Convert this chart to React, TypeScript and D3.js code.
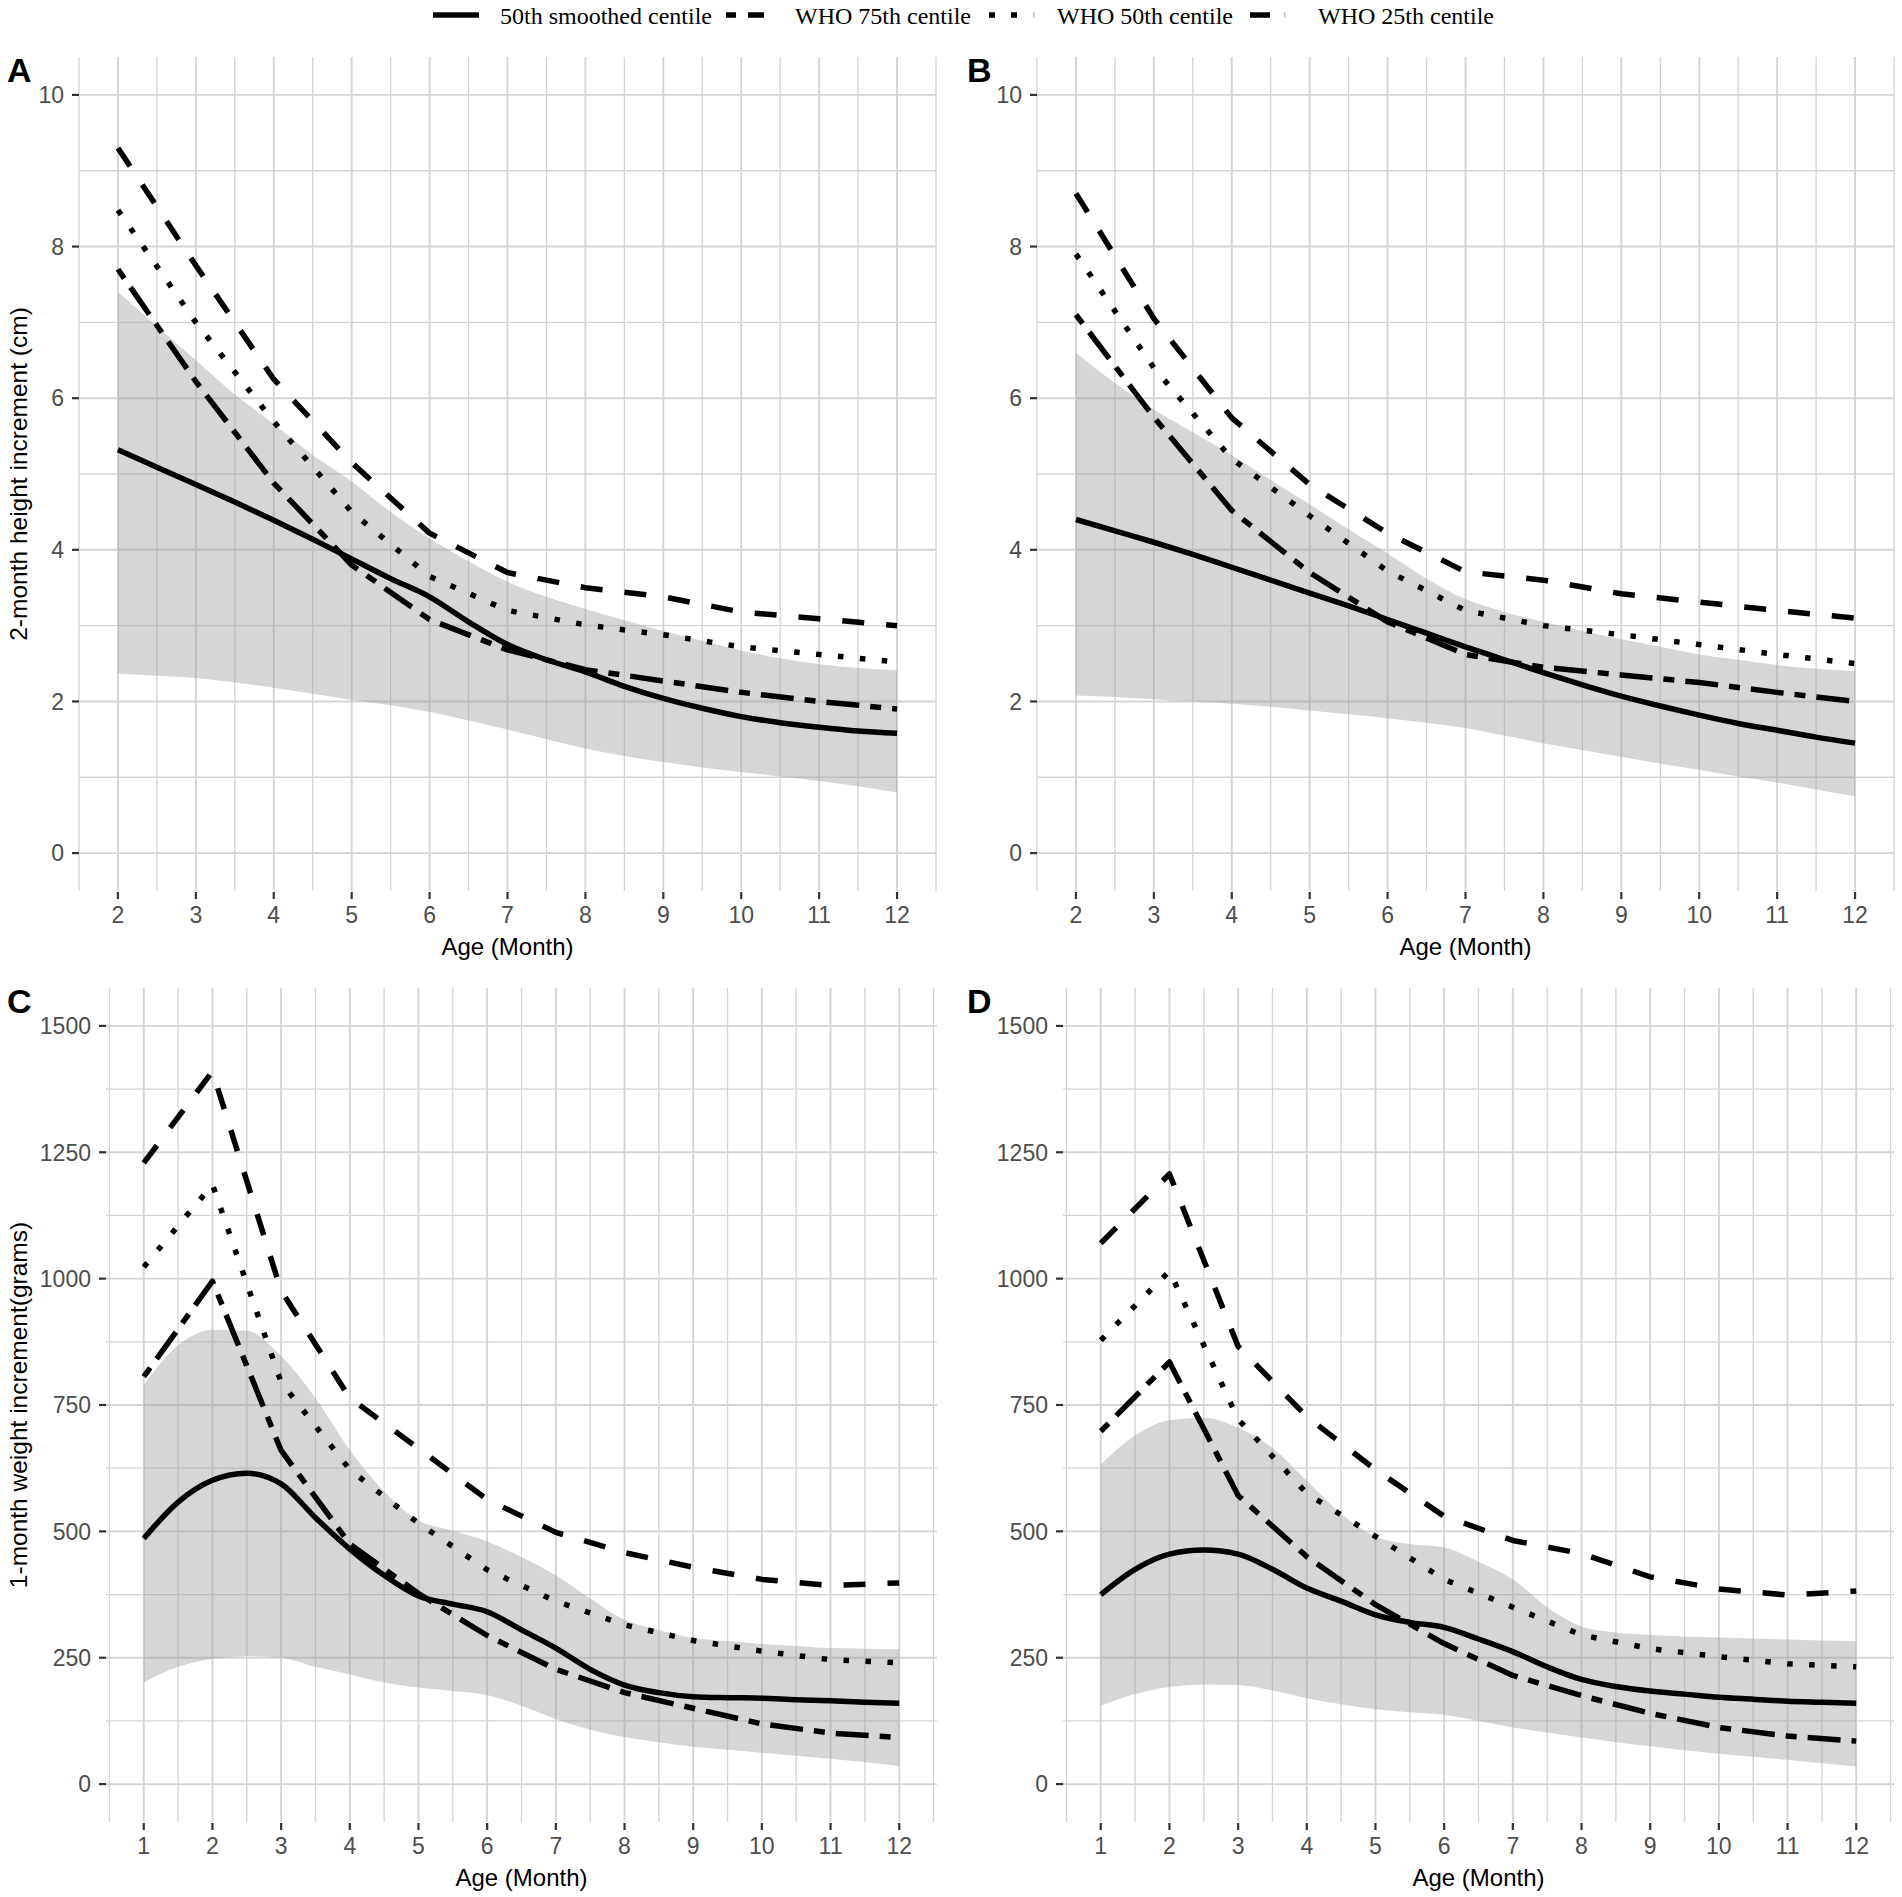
import React from 'react';
import * as d3 from 'd3';

// ---------- DATA ----------
const legendLabels = ['50th smoothed centile', 'WHO 75th centile', 'WHO 50th centile', 'WHO 25th centile'];

const heightMonths = [2, 3, 4, 5, 6, 7, 8, 9, 10, 11, 12];
const weightMonths = [1, 2, 3, 4, 5, 6, 7, 8, 9, 10, 11, 12];
const heightSmoothX = [2, 2.5, 3, 3.5, 4, 4.5, 5, 5.5, 6, 6.5, 7, 7.5, 8, 8.5, 9, 9.5, 10, 10.5, 11, 11.5, 12];
const weightSmoothX = [1, 1.5, 2, 2.5, 3, 3.5, 4, 4.5, 5, 5.5, 6, 6.5, 7, 7.5, 8, 8.5, 9, 9.5, 10, 10.5, 11, 11.5, 12];

const heightTicks = [0, 2, 4, 6, 8, 10];
const weightTicks = [0, 250, 500, 750, 1000, 1250, 1500];

// Panel A (2-month height increment)
const aWho75 = [9.3, 7.75, 6.25, 5.15, 4.22, 3.7, 3.5, 3.38, 3.18, 3.09, 3.0];
const aWho50 = [8.48, 7.0, 5.69, 4.5, 3.65, 3.2, 3.01, 2.88, 2.72, 2.62, 2.52];
const aWho25 = [7.7, 6.22, 4.88, 3.8, 3.08, 2.68, 2.42, 2.27, 2.12, 2.0, 1.9];
const aSmooth = [5.32, 5.09, 4.86, 4.63, 4.39, 4.14, 3.88, 3.62, 3.38, 3.05, 2.75, 2.55, 2.39, 2.2, 2.04, 1.91, 1.8, 1.72, 1.66, 1.61, 1.58];
const aUpper = [7.4, 6.95, 6.5, 6.05, 5.66, 5.25, 4.9, 4.5, 4.15, 3.85, 3.58, 3.38, 3.22, 3.07, 2.93, 2.8, 2.67, 2.57, 2.49, 2.44, 2.41];
const aLower = [2.37, 2.34, 2.31, 2.25, 2.18, 2.1, 2.02, 1.95, 1.86, 1.75, 1.63, 1.5, 1.38, 1.28, 1.2, 1.13, 1.07, 1.01, 0.95, 0.88, 0.8];

// Panel B
const bWho75 = [8.7, 7.05, 5.74, 4.86, 4.22, 3.71, 3.6, 3.42, 3.31, 3.2, 3.1];
const bWho50 = [7.9, 6.4, 5.2, 4.45, 3.72, 3.2, 3.0, 2.88, 2.75, 2.62, 2.5];
const bWho25 = [7.1, 5.75, 4.52, 3.7, 3.05, 2.62, 2.45, 2.35, 2.25, 2.12, 2.0];
const bSmooth = [4.4, 4.25, 4.1, 3.94, 3.77, 3.6, 3.43, 3.26, 3.08, 2.9, 2.72, 2.55, 2.38, 2.22, 2.07, 1.94, 1.82, 1.71, 1.62, 1.53, 1.45];
const bUpper = [6.6, 6.2, 5.85, 5.55, 5.25, 4.92, 4.6, 4.27, 3.95, 3.62, 3.35, 3.18, 3.05, 2.93, 2.82, 2.72, 2.62, 2.55, 2.48, 2.43, 2.4];
const bLower = [2.08, 2.06, 2.03, 2.0, 1.97, 1.93, 1.88, 1.83, 1.78, 1.72, 1.65, 1.55, 1.45, 1.36, 1.27, 1.18, 1.1, 1.01, 0.93, 0.84, 0.75];

// Panel C (1-month weight increment)
const cWho75 = [1229, 1410, 976, 764, 664, 563, 498, 458, 429, 405, 393, 398];
const cWho50 = [1023, 1186, 795, 622, 516, 424, 362, 315, 284, 263, 246, 240];
const cWho25 = [806, 995, 660, 475, 377, 294, 227, 181, 150, 119, 101, 92];
const cSmooth = [486, 558, 601, 615, 594, 527, 465, 413, 372, 356, 341, 305, 269, 227, 196, 181, 173, 171, 170, 167, 165, 162, 160];
const cUpper = [790, 868, 899, 897, 847, 764, 661, 579, 522, 501, 480, 449, 413, 367, 325, 305, 289, 283, 277, 273, 269, 268, 267];
const cLower = [201, 232, 248, 253, 250, 232, 217, 201, 191, 184, 176, 155, 129, 108, 93, 83, 74, 68, 62, 56, 50, 43, 36];

// Panel D
const dWho75 = [1070, 1207, 866, 727, 622, 530, 482, 456, 410, 386, 374, 382];
const dWho50 = [878, 1015, 722, 575, 490, 405, 350, 295, 268, 252, 238, 232];
const dWho25 = [698, 835, 571, 450, 355, 278, 215, 175, 140, 112, 95, 85];
const dSmooth = [375, 425, 455, 463, 455, 425, 388, 362, 335, 320, 310, 287, 262, 232, 207, 193, 184, 178, 172, 168, 164, 162, 160];
const dUpper = [632, 690, 720, 725, 705, 665, 600, 535, 490, 475, 468, 440, 405, 350, 312, 300, 295, 292, 290, 288, 286, 284, 283];
const dLower = [155, 178, 192, 197, 196, 185, 170, 158, 148, 142, 137, 125, 112, 102, 92, 83, 75, 67, 60, 54, 48, 41, 35];

// ---------- STYLE / LAYOUT ----------
const W = 1902;
const H = 1897;
const LW = 5.5;
const DASH = { dashed: `${4 * LW} ${4 * LW}`, dotted: `${LW} ${3 * LW}`, twodash: `${2 * LW} ${2 * LW} ${6 * LW} ${2 * LW}` };
const GRID = '#d4d4d4';
const SANS = '"Liberation Sans", Arial, Helvetica, sans-serif';
const SERIF = '"Liberation Serif", "Times New Roman", serif';

type PanelSpec = {
  letter: string;
  left: number; right: number; top: number; bottom: number;
  xDomain: [number, number]; yDomain: [number, number];
  xTicks: number[]; yTicks: number[];
  yMinor: number[];
  whoX: number[]; who75: number[]; who50: number[]; who25: number[];
  smoothX: number[]; smooth: number[]; upper: number[]; lower: number[];
  yTitle?: string;
};

const heightMinor = [1, 3, 5, 7, 9];
const weightMinor = [125, 375, 625, 875, 1125, 1375];

const panels: PanelSpec[] = [
  { letter: 'A', left: 79, right: 936, top: 57, bottom: 891, xDomain: [1.5, 12.5], yDomain: [-0.5, 10.5], xTicks: heightMonths, yTicks: heightTicks, yMinor: heightMinor,
    whoX: heightMonths, who75: aWho75, who50: aWho50, who25: aWho25, smoothX: heightSmoothX, smooth: aSmooth, upper: aUpper, lower: aLower, yTitle: '2-month height increment (cm)' },
  { letter: 'B', left: 1037, right: 1894, top: 57, bottom: 891, xDomain: [1.5, 12.5], yDomain: [-0.5, 10.5], xTicks: heightMonths, yTicks: heightTicks, yMinor: heightMinor,
    whoX: heightMonths, who75: bWho75, who50: bWho50, who25: bWho25, smoothX: heightSmoothX, smooth: bSmooth, upper: bUpper, lower: bLower },
  { letter: 'C', left: 106, right: 937, top: 988, bottom: 1822, xDomain: [0.45, 12.55], yDomain: [-75, 1575], xTicks: weightMonths, yTicks: weightTicks, yMinor: weightMinor,
    whoX: weightMonths, who75: cWho75, who50: cWho50, who25: cWho25, smoothX: weightSmoothX, smooth: cSmooth, upper: cUpper, lower: cLower, yTitle: '1-month weight increment(grams)' },
  { letter: 'D', left: 1063, right: 1894, top: 988, bottom: 1822, xDomain: [0.45, 12.55], yDomain: [-75, 1575], xTicks: weightMonths, yTicks: weightTicks, yMinor: weightMinor,
    whoX: weightMonths, who75: dWho75, who50: dWho50, who25: dWho25, smoothX: weightSmoothX, smooth: dSmooth, upper: dUpper, lower: dLower },
];

function Panel({ p }: { p: PanelSpec }) {
  const x = d3.scaleLinear().domain(p.xDomain).range([p.left, p.right]);
  const y = d3.scaleLinear().domain(p.yDomain).range([p.bottom, p.top]);
  const xMinor: number[] = [];
  for (let v = Math.ceil(p.xDomain[0] * 2) / 2; v <= p.xDomain[1]; v += 0.5) {
    if (!Number.isInteger(v)) xMinor.push(v);
  }
  const lineLin = d3.line<number>().x((_, i) => x(p.whoX[i])).y((d) => y(d)).curve(d3.curveLinear);
  const lineSmooth = d3.line<number>().x((_, i) => x(p.smoothX[i])).y((d) => y(d)).curve(d3.curveMonotoneX);
  const area = d3.area<number>().x((_, i) => x(p.smoothX[i])).y0((_, i) => y(p.lower[i])).y1((d) => y(d)).curve(d3.curveMonotoneX);
  const letterX = p.left < 500 ? 7 : 967;
  const letterY = p.top + 25;
  const cy = (p.top + p.bottom) / 2;
  const cx = (p.left + p.right) / 2;
  return (
    <g>
      {p.yMinor.map((v) => (
        <line key={'ym' + v} x1={p.left} x2={p.right} y1={y(v)} y2={y(v)} stroke={GRID} strokeWidth={1.3} />
      ))}
      {xMinor.map((v) => (
        <line key={'xm' + v} x1={x(v)} x2={x(v)} y1={p.top} y2={p.bottom} stroke={GRID} strokeWidth={1.3} />
      ))}
      {p.yTicks.map((v) => (
        <line key={'yM' + v} x1={p.left} x2={p.right} y1={y(v)} y2={y(v)} stroke={GRID} strokeWidth={1.9} />
      ))}
      {p.xTicks.map((v) => (
        <line key={'xM' + v} x1={x(v)} x2={x(v)} y1={p.top} y2={p.bottom} stroke={GRID} strokeWidth={1.9} />
      ))}
      <path d={area(p.upper) || ''} fill="#999999" fillOpacity={0.4} stroke="none" />
      <path d={lineSmooth(p.smooth) || ''} fill="none" stroke="#000" strokeWidth={LW} strokeLinejoin="round" />
      <path d={lineLin(p.who75) || ''} fill="none" stroke="#000" strokeWidth={LW} strokeDasharray={DASH.dashed} strokeLinejoin="round" />
      <path d={lineLin(p.who50) || ''} fill="none" stroke="#000" strokeWidth={LW} strokeDasharray={DASH.dotted} strokeLinejoin="round" />
      <path d={lineLin(p.who25) || ''} fill="none" stroke="#000" strokeWidth={LW} strokeDasharray={DASH.twodash} strokeLinejoin="round" />
      {p.yTicks.map((v) => (
        <g key={'yt' + v}>
          <line x1={p.left - 7} x2={p.left} y1={y(v)} y2={y(v)} stroke="#333" strokeWidth={2.2} />
          <text x={p.left - 15} y={y(v)} dy="0.36em" textAnchor="end" fontFamily={SANS} fontSize={23} fill="#4d4d4d">{v}</text>
        </g>
      ))}
      {p.xTicks.map((v) => (
        <g key={'xt' + v}>
          <line x1={x(v)} x2={x(v)} y1={p.bottom + 1} y2={p.bottom + 8} stroke="#333" strokeWidth={2.2} />
          <text x={x(v)} y={p.bottom + 32} textAnchor="middle" fontFamily={SANS} fontSize={23} fill="#4d4d4d">{v}</text>
        </g>
      ))}
      <text x={cx} y={p.bottom + 64} textAnchor="middle" fontFamily={SANS} fontSize={24} fill="#000">Age (Month)</text>
      {p.yTitle && (
        <text transform={`translate(27,${cy}) rotate(-90)`} textAnchor="middle" fontFamily={SANS} fontSize={24.5} fill="#000">{p.yTitle}</text>
      )}
      <text x={letterX} y={letterY} fontFamily={SANS} fontWeight="bold" fontSize={34} fill="#000">{p.letter}</text>
    </g>
  );
}

const legendKeyX = [433, 726, 989, 1250];
const legendTextX = [500, 795, 1057, 1318];
const legendDash = [undefined, '10 12 16 100', '6 16 6 100', '20 100'];

function Legend() {
  const ky = 15;
  return (
    <g>
      {legendLabels.map((lab, i) => (
        <g key={lab}>
          <line x1={legendKeyX[i]} x2={legendKeyX[i] + 46} y1={ky} y2={ky} stroke="#000" strokeWidth={LW} strokeDasharray={legendDash[i]} />
          {i === 2 && <line x1={legendKeyX[i] + 44} x2={legendKeyX[i] + 45.5} y1={ky} y2={ky} stroke="#000" strokeOpacity={0.25} strokeWidth={LW} />}
          {i === 3 && <line x1={legendKeyX[i] + 34} x2={legendKeyX[i] + 35.5} y1={ky} y2={ky} stroke="#000" strokeOpacity={0.25} strokeWidth={LW} />}
          <text x={legendTextX[i]} y={24} fontFamily={SERIF} fontSize={24} fill="#000">{lab}</text>
        </g>
      ))}
    </g>
  );
}

export default function App() {
  return (
    <svg width={W} height={H} viewBox={`0 0 ${W} ${H}`} style={{ position: 'absolute', left: 0, top: 0, background: '#fff' }}>
      <rect x={0} y={0} width={W} height={H} fill="#fff" />
      <Legend />
      {panels.map((p) => (
        <Panel key={p.letter} p={p} />
      ))}
    </svg>
  );
}
